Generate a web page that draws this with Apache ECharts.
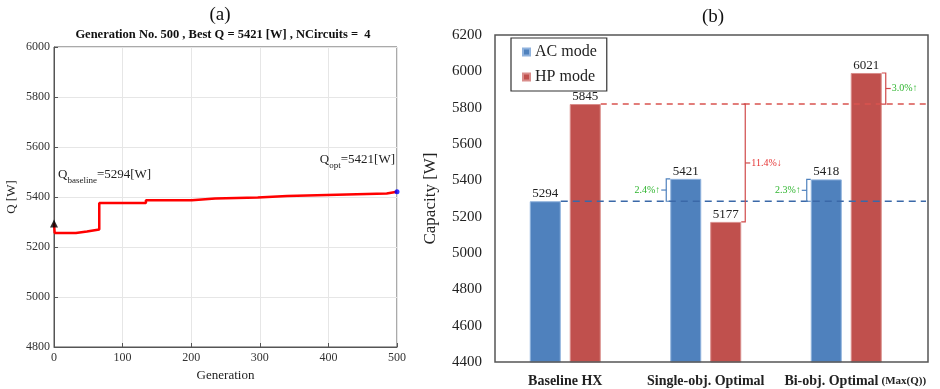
<!DOCTYPE html>
<html><head><meta charset="utf-8">
<script src="https://cdn.jsdelivr.net/npm/echarts@6/dist/echarts.min.js"></script>
<style>html,body{margin:0;padding:0;background:#fff}#c{width:940px;height:389px}</style>
</head><body><div id="c"></div>
<script>
// ---- panel (a) data: best Q per generation (step changes) ----
const genSteps = [0, 1, 32, 48, 66, 134, 201, 235, 297, 340, 427, 485, 500];
const qSteps   = [5294, 5256, 5262, 5270, 5376, 5387, 5394, 5398, 5404, 5410, 5414, 5421, 5421];
const genTicks = [0, 100, 200, 300, 400, 500];
const qTicks   = [4800, 5000, 5200, 5400, 5600, 5800, 6000];
// ---- panel (b) data ----
const categories = ['Baseline HX', 'Single-obj. Optimal', 'Bi-obj. Optimal'];
const acMode = [5294, 5421, 5418];
const hpMode = [5845, 5177, 6021];
const capTicks = [4400, 4600, 4800, 5000, 5200, 5400, 5600, 5800, 6000, 6200];

const F = "'Liberation Serif','Times New Roman','DejaVu Serif',serif";
const chart = echarts.init(document.getElementById('c'));

// step path built from the step data (value holds until next change)
const stepPts = [];
genSteps.forEach((g, i) => {
  if (i > 0) stepPts.push([g, qSteps[i - 1]]);
  stepPts.push([g, qSteps[i]]);
});
const plain = v => String(v);

const option = {
  animation: false,
  textStyle: { fontFamily: F },
  grid: [
    { left: 54, right: 543, top: 47, bottom: 42, show: true, borderColor: '#555', borderWidth: 1 },
    { left: 495, width: 421.5, top: 41.4, height: 320.6 },
    { left: 495, width: 421.5, top: 35, height: 327 }
  ],
  legend: {
    data: ['AC mode', 'HP mode'], orient: 'vertical', left: 511, top: 38,
    selectedMode: false, icon: 'rect', itemWidth: 7, itemHeight: 7, itemGap: 7,
    padding: [5, 10, 5, 11], borderColor: '#333', borderWidth: 1.2, backgroundColor: '#fff',
    textStyle: { fontFamily: F, fontSize: 16, color: '#222', lineHeight: 18 }
  },
  xAxis: [
    { type: 'value', gridIndex: 0, min: genTicks[0], max: genTicks[genTicks.length - 1], interval: 100,
      name: 'Generation', nameLocation: 'middle', nameGap: 22,
      nameTextStyle: { fontFamily: F, fontSize: 13, color: '#222' },
      axisLine: { lineStyle: { color: '#555' } },
      axisTick: { inside: true, length: 4, lineStyle: { color: '#555' } },
      axisLabel: { fontFamily: F, fontSize: 12, color: '#333', margin: 5, formatter: plain },
      splitLine: { show: true, lineStyle: { color: '#e6e6e6' } } },
    { type: 'category', gridIndex: 1, data: categories,
      axisLine: { show: false }, axisTick: { show: false },
      axisLabel: { interval: 0, margin: 12,
        formatter: v => v.indexOf('Bi') === 0 ? '{s|}{c|' + v + '} {m|(Max(Q))}' : '{c|' + v + '}',
        rich: {
          s: { width: 18 },
          c: { fontFamily: F, fontSize: 14, fontWeight: 'bold', color: '#222' },
          m: { fontFamily: F, fontSize: 11, fontWeight: 'bold', color: '#222' }
        } } },
    { type: 'value', gridIndex: 2, show: false, min: 0, max: 1 }
  ],
  yAxis: [
    { type: 'value', gridIndex: 0, min: qTicks[0], max: qTicks[qTicks.length - 1], interval: 200,
      name: 'Q [W]', nameLocation: 'middle', nameGap: 36,
      nameTextStyle: { fontFamily: F, fontSize: 13, color: '#222' },
      axisLine: { show: true, lineStyle: { color: '#555' } },
      axisTick: { show: true, inside: true, length: 4, lineStyle: { color: '#555' } },
      axisLabel: { fontFamily: F, fontSize: 12, color: '#333', margin: 4, formatter: plain },
      splitLine: { show: true, lineStyle: { color: '#e6e6e6' } } },
    { type: 'value', gridIndex: 1, min: 4383, max: capTicks[capTicks.length - 1],
      show: false, splitLine: { show: false } },
    { type: 'value', gridIndex: 2, min: capTicks[0], max: capTicks[capTicks.length - 1], interval: 200,
      name: 'Capacity [W]', nameLocation: 'middle', nameGap: 56,
      nameTextStyle: { fontFamily: F, fontSize: 17, color: '#222' },
      axisLine: { show: false }, axisTick: { show: false }, splitLine: { show: false },
      axisLabel: { fontFamily: F, fontSize: 15, color: '#222', margin: 13, formatter: plain } }
  ],
  series: [
    { type: 'line', xAxisIndex: 0, yAxisIndex: 0, symbol: 'none',
      data: stepPts, lineStyle: { color: '#ff0000', width: 2.5 }, z: 3 },
    { type: 'scatter', xAxisIndex: 0, yAxisIndex: 0, data: [[genSteps[0], qSteps[0]]],
      symbol: 'triangle', symbolSize: 8, itemStyle: { color: '#000' }, z: 4, clip: false },
    { type: 'scatter', xAxisIndex: 0, yAxisIndex: 0,
      data: [[genSteps[genSteps.length - 1], qSteps[qSteps.length - 1]]],
      symbol: 'circle', symbolSize: 5, itemStyle: { color: '#0000ff' }, z: 4, clip: false },
    { type: 'bar', name: 'AC mode', xAxisIndex: 1, yAxisIndex: 1, data: acMode,
      barWidth: 31, barGap: '29%',
      itemStyle: { color: '#4F81BD', borderColor: '#8fb2dd', borderWidth: 1 },
      label: { show: true, position: 'top', distance: 1, fontFamily: F, fontSize: 13, color: '#222' } },
    { type: 'bar', name: 'HP mode', xAxisIndex: 1, yAxisIndex: 1, data: hpMode,
      barWidth: 31, barGap: '29%',
      itemStyle: { color: '#C0504D', borderColor: '#d98d8b', borderWidth: 1 },
      label: { show: true, position: 'top', distance: 1, fontFamily: F, fontSize: 13, color: '#222' } }
  ]
};
chart.setOption(option);

// ---- overlays computed through the axes ----
const yb = v => chart.convertToPixel({ yAxisIndex: 1 }, v);
const xc = i => chart.convertToPixel({ xAxisIndex: 1 }, categories[i]);
const half = 35.5, inner = 4.5, rightEdge = 926;
const G = [];
G.push({ type: 'rect', shape: { x: 495, y: 35, width: 433, height: 327 },
  style: { fill: 'none', stroke: '#555', lineWidth: 1.5 }, z: 20 });
G.push({ type: 'line', shape: { x1: xc(0) - inner, y1: yb(acMode[0]), x2: rightEdge, y2: yb(acMode[0]) },
  style: { stroke: '#3a68a8', lineWidth: 1.5, lineDash: [7, 5] }, z: 20 });
G.push({ type: 'line', shape: { x1: xc(0) + half, y1: yb(hpMode[0]), x2: rightEdge, y2: yb(hpMode[0]) },
  style: { stroke: '#d9534f', lineWidth: 1.5, lineDash: [6, 5] }, z: 20 });

function pct(a, b) {
  return Math.abs((b - a) / a * 100).toFixed(1) + '%' + (b > a ? '↑' : '↓');
}
function bracket(x, xEdge, yA, yB, dir, color, text, tColor) {
  const mid = (yA + yB) / 2;
  G.push({ type: 'polyline', shape: { points: [[xEdge, yA], [x, yA], [x, yB], [xEdge, yB]] },
    style: { stroke: color, lineWidth: 1.2, fill: 'none' }, z: 21 });
  G.push({ type: 'line', shape: { x1: x, y1: mid, x2: x + dir * 5, y2: mid },
    style: { stroke: color, lineWidth: 1.2 }, z: 21 });
  G.push({ type: 'text', x: x + dir * 6, y: mid, z: 21,
    style: { text: text, fill: tColor, font: '10px ' + F, align: dir > 0 ? 'left' : 'right', verticalAlign: 'middle' } });
}
const green = '#2fb52f';
bracket(xc(1) - half - 4, xc(1) - half, yb(acMode[1]), yb(acMode[0]), -1, '#4F81BD', pct(acMode[0], acMode[1]), green);
bracket(xc(1) + half + 4, xc(1) + half, yb(hpMode[0]), yb(hpMode[1]), 1, '#d04a4a', pct(hpMode[0], hpMode[1]), '#e53535');
bracket(xc(2) - half - 4, xc(2) - half, yb(acMode[2]), yb(acMode[0]), -1, '#4F81BD', pct(acMode[0], acMode[2]), green);
bracket(xc(2) + half + 4, xc(2) + half, yb(hpMode[2]), yb(hpMode[0]), 1, '#d04a4a', pct(hpMode[0], hpMode[2]), green);

G.push({ type: 'text', x: 220, y: 15, style: { text: '(a)', font: '19px ' + F, fill: '#111', align: 'center', verticalAlign: 'middle' } });
G.push({ type: 'text', x: 713, y: 17, style: { text: '(b)', font: '19px ' + F, fill: '#111', align: 'center', verticalAlign: 'middle' } });
G.push({ type: 'text', x: 223, y: 35, style: {
  text: 'Generation No. ' + genSteps[genSteps.length - 1] + ' , Best Q = ' + qSteps[qSteps.length - 1] + ' [W] , NCircuits =  4',
  font: 'bold 12.5px ' + F, fill: '#111', align: 'center', verticalAlign: 'middle' } });
const richQ = {
  q: { fontFamily: F, fontSize: 13, fill: '#222', lineHeight: 20, verticalAlign: 'middle' },
  s: { fontFamily: F, fontSize: 9, fill: '#222', lineHeight: 20, verticalAlign: 'bottom' }
};
G.push({ type: 'text', x: 58, y: 175, z: 10, style: {
  text: '{q|Q}{s|baseline}{q|=' + qSteps[0] + '[W]}', rich: richQ, align: 'left', verticalAlign: 'middle' } });
G.push({ type: 'text', x: 395, y: 160, z: 10, style: {
  text: '{q|Q}{s|opt}{q|=' + qSteps[qSteps.length - 1] + '[W]}', rich: richQ, align: 'right', verticalAlign: 'middle' } });

chart.setOption({ graphic: G });
</script>
</body></html>
